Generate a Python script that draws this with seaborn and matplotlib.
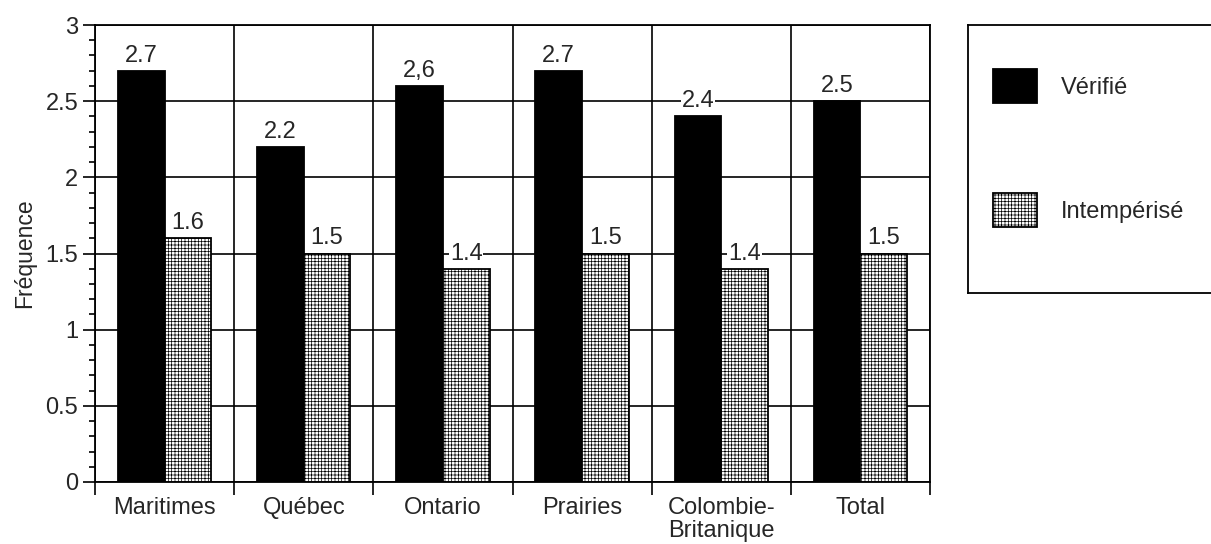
import numpy as np
import pandas as pd
import matplotlib
matplotlib.use("Agg")
import matplotlib.pyplot as plt
from matplotlib.patches import Patch
import seaborn as sns

# Regions and mean frequencies
regions = ["Maritimes", "Québec", "Ontario", "Prairies", "Colombie-\nBritanique", "Total"]
verifie = [2.7, 2.2, 2.6, 2.7, 2.4, 2.5]
intemperise = [1.6, 1.5, 1.4, 1.5, 1.4, 1.5]
verifie_labels = ["2.7", "2.2", "2,6", "2.7", "2.4", "2.5"]
intemperise_labels = ["1.6", "1.5", "1.4", "1.5", "1.4", "1.5"]
series = ["Vérifié", "Intempérisé"]
y_ticks = [0, 0.5, 1, 1.5, 2, 2.5, 3]
y_tick_labels = ["0", "0.5", "1", "1.5", "2", "2.5", "3"]

sns.set_style("white")
plt.rcParams["font.family"] = ["Liberation Sans", "DejaVu Sans"]
plt.rcParams["hatch.linewidth"] = 0.5
plt.rcParams["hatch.color"] = "#222222"

df = pd.DataFrame({
    "region": regions * 2,
    "serie": [series[0]] * len(regions) + [series[1]] * len(regions),
    "valeur": verifie + intemperise,
})

W, H = 1211, 544
fig = plt.figure(figsize=(W / 100, H / 100), dpi=100)
ax = fig.add_axes([95 / W, (H - 482) / H, (930 - 95) / W, (482 - 25) / H])

sns.barplot(data=df, x="region", y="valeur", hue="serie", order=regions,
            hue_order=series, palette=["black", "white"], edgecolor="black",
            linewidth=1.3, width=0.67, gap=0, legend=False, ax=ax, zorder=3)

HATCH = "+++++"
for bar in ax.containers[1]:
    bar.set_hatch(HATCH)

# Value labels above each bar
for cont, labs in zip(ax.containers, [verifie_labels, intemperise_labels]):
    texts = ax.bar_label(cont, labels=labs, padding=3, fontsize=17, zorder=4)
    for t in texts:
        t.set_bbox(dict(facecolor="white", edgecolor="none", pad=0.5))

# Axes: category boundaries as major x ticks, names on minor ticks
ax.set_xlim(-0.5, len(regions) - 0.5)
ax.set_ylim(0, 3)
ax.set_xticks(np.arange(-0.5, len(regions), 1.0))
ax.set_xticklabels([])
ax.set_xticks(np.arange(len(regions)), minor=True)
ax.set_xticklabels(regions, minor=True, fontsize=17, linespacing=1.05)
ax.tick_params(axis="x", which="major", direction="out", length=9.5, width=1.2,
               color="black", bottom=True)
ax.tick_params(axis="x", which="minor", length=0, pad=11)

ax.set_yticks(y_ticks)
ax.set_yticklabels(y_tick_labels, fontsize=17)
ax.set_yticks(np.arange(0, 3.01, 0.1), minor=True)
ax.tick_params(axis="y", which="major", direction="out", length=9, width=1.2,
               color="black", left=True, pad=3)
ax.tick_params(axis="y", which="minor", direction="out", length=4, width=1.2,
               color="black", left=True)

ax.grid(True, which="major", color="black", linewidth=1.2)
ax.set_axisbelow(True)
for s in ax.spines.values():
    s.set_visible(True)
    s.set_color("black")
    s.set_linewidth(1.3)

ax.set_xlabel("")
ax.set_ylabel("Fréquence", fontsize=16.5, labelpad=7)

# Legend in its own framed panel
lax = fig.add_axes([968 / W, (H - 293) / H, (1216 - 968) / W, (293 - 25) / H])
lax.set_xticks([])
lax.set_yticks([])
for s in lax.spines.values():
    s.set_color("black")
    s.set_linewidth(1.3)
handles = [Patch(facecolor="black", edgecolor="black", linewidth=1.3),
           Patch(facecolor="white", edgecolor="black", linewidth=1.3, hatch=HATCH)]
lax.legend(handles, series, loc="upper left",
           bbox_to_anchor=((993 - 968) / 248, 1 - (69 - 25) / 268),
           frameon=False, fontsize=17, handlelength=1.86, handleheight=1.86,
           handletextpad=1.0, labelspacing=3.8, borderpad=0, borderaxespad=0)

fig.savefig("out.png", dpi=100)
